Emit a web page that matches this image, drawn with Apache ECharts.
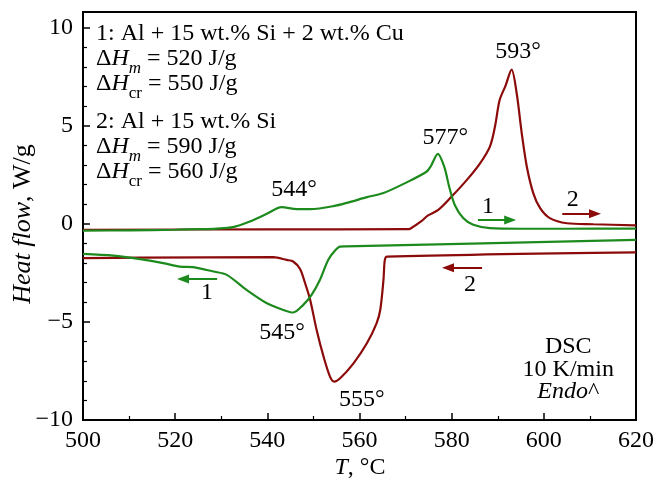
<!DOCTYPE html>
<html>
<head>
<meta charset="utf-8">
<script src="https://cdn.jsdelivr.net/npm/echarts@6/dist/echarts.min.js"></script>
<style>
  html, body { margin: 0; padding: 0; background: #fff; }
  #chart { width: 670px; height: 483px; }
</style>
</head>
<body>
<div id="chart"></div>
<script>
// DSC curves, [T in °C, heat flow in W/g]
var heat1 = [
  [500, -0.35], [510, -0.33], [520, -0.3], [525.4, -0.27], [529, -0.24], [532.5, -0.17],
  [536.2, 0.12], [539.9, 0.51], [543.1, 0.85], [546.4, 0.75], [549.3, 0.75], [554.3, 0.9],
  [558, 1.12], [561.6, 1.36], [565.2, 1.57], [570.2, 2.11], [574.6, 2.67], [575.5, 2.95],
  [577, 3.57], [578.4, 2.9], [579.5, 1.85], [580.7, 0.95], [582.5, 0.3], [584.7, -0.05],
  [588.3, -0.22], [595, -0.25], [605, -0.25], [620, -0.24]
];
var heat2 = [
  [500, -0.3], [540, -0.28], [570.5, -0.27], [571, -0.25], [573.5, 0.15], [574.8, 0.42],
  [577.1, 0.71], [580, 1.39], [583.3, 2.24], [586.2, 3.1], [588.3, 3.94], [589.4, 4.96],
  [590.4, 6.3], [591.7, 7.05], [593, 7.86], [594.1, 6.67], [595.2, 4.63], [596.3, 2.92],
  [597.7, 1.57], [599.2, 0.8], [601.3, 0.29], [605, 0.03], [610.8, -0.02], [620, -0.08]
];
var cool1 = [
  [500, -1.53], [506.6, -1.62], [512.4, -1.8], [517.4, -2.0], [521, -2.18], [523.9, -2.21],
  [528.3, -2.43], [531.2, -2.6], [535.5, -3.37], [539.9, -4.05], [543.5, -4.39], [545.6, -4.52],
  [547.8, -4.13], [549.6, -3.62], [551.4, -2.86], [553.2, -1.84], [554.7, -1.36], [555.8, -1.16],
  [557, -1.15], [620, -0.82]
];
var cool2 = [
  [500, -1.75], [512.4, -1.72], [541.3, -1.7], [544.2, -1.84], [545.6, -1.92], [547.1, -2.3],
  [548.2, -3.03], [549.3, -3.88], [550.7, -5.41], [552.2, -6.77], [553.6, -7.79], [554.5, -8.04],
  [555.8, -7.87], [558.7, -7.11], [561.6, -6.09], [563.7, -5.07], [564.5, -4.39], [565.2, -2.86],
  [565.5, -1.84], [566, -1.67], [620, -1.45]
];

// peak temperatures: [T, q, text]
var peaks = [
  [545.8, 1.73, '544°'], [578.6, 4.39, '577°'], [594.4, 8.78, '593°'],
  [543.2, -5.56, '545°'], [560.5, -8.98, '555°']
];
// run direction arrows: [from T, to T, q, curve number, label T, label q]
var arrows = [
  [585.7, 592.7, 0.2, '1', 587.9, 0.87],
  [604.0, 611.1, 0.51, '2', 606.3, 1.22],
  [529.1, 521.7, -2.81, '1', 526.9, -3.52],
  [586.6, 579.2, -2.24, '2', 584.0, -3.11]
];

var GREEN = '#1c8a1c';
var RED = '#8b0b0b';
var FONT = 'Liberation Serif';
var FS = 24;

var chart = echarts.init(document.getElementById('chart'));

function arrowLine(a, color) {
  return {
    silent: true,
    symbol: ['none', 'triangle'],
    symbolSize: [9, 12],
    lineStyle: { color: color, width: 2, type: 'solid' },
    label: { show: false },
    data: [[{ coord: [a[0], a[2]] }, { coord: [a[1], a[2]] }]]
  };
}

function curve(data, color, ml) {
  return {
    type: 'line',
    data: data,
    showSymbol: false,
    smooth: 0.3,
    lineStyle: { color: color, width: 2.2 },
    animation: false,
    markLine: ml
  };
}

chart.setOption({
  animation: false,
  backgroundColor: '#fff',
  grid: {
    left: 83, right: 34, top: 12, bottom: 63,
    show: true, borderColor: '#000', borderWidth: 2, backgroundColor: 'transparent'
  },
  xAxis: {
    type: 'value', min: 500, max: 620, interval: 20,
    axisLine: { onZero: false, lineStyle: { color: '#000', width: 2 } },
    axisTick: { inside: true, length: 7, lineStyle: { color: '#000', width: 1.5 } },
    minorTick: { show: true, splitNumber: 2, length: 4, lineStyle: { color: '#000', width: 1.2 } },
    splitLine: { show: false },
    axisLabel: { color: '#000', fontFamily: FONT, fontSize: FS, margin: 9 }
  },
  yAxis: {
    type: 'value', min: -10, max: 10.8, interval: 5,
    axisLine: { onZero: false, lineStyle: { color: '#000', width: 2 } },
    axisTick: { inside: true, length: 7, lineStyle: { color: '#000', width: 1.5 } },
    minorTick: { show: true, splitNumber: 5, length: 4, lineStyle: { color: '#000', width: 1.2 } },
    splitLine: { show: false },
    axisLabel: {
      color: '#000', fontFamily: FONT, fontSize: FS, margin: 10,
      formatter: function (v) {
        if (Math.abs(v % 5) > 1e-6) return '';
        return String(v).replace('-', '\u2212');
      }
    }
  },
  series: [
    curve(heat2, RED, arrowLine(arrows[1], RED)),
    curve(cool2, RED, arrowLine(arrows[3], RED)),
    curve(heat1, GREEN, arrowLine(arrows[0], GREEN)),
    curve(cool1, GREEN, arrowLine(arrows[2], GREEN))
  ]
});

var rich = {
  n: { fontFamily: FONT, fontSize: FS, lineHeight: FS, verticalAlign: 'top', fill: '#000' },
  i: { fontFamily: FONT, fontSize: FS, lineHeight: FS, verticalAlign: 'top', fontStyle: 'italic', fill: '#000' },
  s: { fontFamily: FONT, fontSize: 17, lineHeight: 30, verticalAlign: 'bottom', fill: '#000' },
  si: { fontFamily: FONT, fontSize: 17, lineHeight: 30, verticalAlign: 'bottom', fontStyle: 'italic', fill: '#000' },
  tn: { fontFamily: FONT, fontSize: 26, lineHeight: 26, fill: '#000' },
  ti: { fontFamily: FONT, fontSize: 26, lineHeight: 26, fontStyle: 'italic', fill: '#000' }
};

function txt(x, y, text, opts) {
  opts = opts || {};
  return {
    type: 'text', x: x, y: y, rotation: opts.rot || 0, silent: true,
    style: {
      text: text, fill: '#000', font: FS + 'px ' + FONT,
      align: opts.align || 'center', verticalAlign: opts.va || 'middle', rich: rich
    }
  };
}

var g = [];
// sample description block
var infoLines = [
  [22, '{n|1: Al + 15 wt.% Si + 2 wt.% Cu}'],
  [47, '{n|\u0394}{i|H}{si|m}{n| = 520 J/g}'],
  [72, '{n|\u0394}{i|H}{s|cr}{n| = 550 J/g}'],
  [110, '{n|2: Al + 15 wt.% Si}'],
  [135, '{n|\u0394}{i|H}{si|m}{n| = 590 J/g}'],
  [160, '{n|\u0394}{i|H}{s|cr}{n| = 560 J/g}']
];
infoLines.forEach(function (l) {
  g.push(txt(96, l[0], l[1], { align: 'left', va: 'top' }));
});

peaks.forEach(function (p) {
  var px = chart.convertToPixel({ gridIndex: 0 }, [p[0], p[1]]);
  g.push(txt(px[0], px[1], p[2]));
});
arrows.forEach(function (a) {
  var px = chart.convertToPixel({ gridIndex: 0 }, [a[4], a[5]]);
  g.push(txt(px[0], px[1], a[3]));
});

var dsc = [[605.3, -6.28, '{n|DSC}'], [605.3, -7.45, '{n|10 K/min}'], [605.3, -8.57, '{i|Endo}{n|^}']];
dsc.forEach(function (d) {
  var px = chart.convertToPixel({ gridIndex: 0 }, [d[0], d[1]]);
  g.push(txt(px[0], px[1] - 12, d[2], { va: 'top' }));
});

// axis titles
g.push(txt(23, 224, '{ti|Heat flow}{tn|, W/g}', { rot: Math.PI / 2 }));
g.push(txt(360, 468, '{i|T}{n|, °C}'));

chart.setOption({ graphic: g });
</script>
</body>
</html>
